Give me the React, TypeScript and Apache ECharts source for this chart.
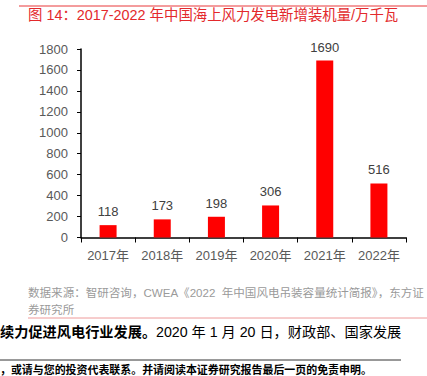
import React, { useEffect, useRef } from "react";
import * as echarts from "echarts";

const categories = ["2017年", "2018年", "2019年", "2020年", "2021年", "2022年"];
const capacityValues = [118, 173, 198, 306, 1690, 516];
const titleText = "图 14：2017-2022 年中国海上风力发电新增装机量/万千瓦";
const sourceLine1 = "数据来源：智研咨询，CWEA《2022  年中国风电吊装容量统计简报》，东方证";
const sourceLine2 = "券研究所";
const bodyBold = "续力促进风电行业发展。";
const bodyRegular = "2020 年 1 月 20 日，财政部、国家发展";
const footerText = "，或请与您的投资代表联系。并请阅读本证券研究报告最后一页的免责申明。";

const FONT = "'Liberation Sans', 'Noto Sans CJK SC', sans-serif";

export default function App() {
  const ref = useRef<HTMLDivElement>(null);
  useEffect(() => {
    if (!ref.current) return;
    const chart = echarts.init(ref.current, null, { renderer: "svg" });
    chart.setOption({
      animation: false,
      backgroundColor: "#ffffff",
      grid: { left: 81, right: 21, top: 49, bottom: 138.5 },
      xAxis: {
        type: "category",
        data: categories,
        axisLine: { lineStyle: { color: "#000", width: 1.5 } },
        axisTick: { show: true, alignWithLabel: false, length: 5, interval: 0, lineStyle: { color: "#000", width: 1 } },
        axisLabel: { color: "#595959", fontSize: 13, fontFamily: FONT, margin: 11, interval: 0 },
      },
      yAxis: {
        type: "value",
        min: 0,
        max: 1800,
        interval: 200,
        splitLine: { show: false },
        axisLine: { show: true, lineStyle: { color: "#000", width: 1.5 } },
        axisTick: { show: true, length: 4, lineStyle: { color: "#000", width: 1 } },
        axisLabel: {
          color: "#595959",
          fontSize: 13,
          fontFamily: FONT,
          margin: 13,
          formatter: (v: number) => String(v),
        },
      },
      series: [
        {
          type: "bar",
          data: capacityValues,
          barWidth: 17,
          itemStyle: { color: "#FF0000" },
          label: {
            show: true,
            position: "top",
            distance: 7,
            color: "#404040",
            fontSize: 13,
            fontFamily: FONT,
          },
        },
      ],
      graphic: [
        { type: "line", shape: { x1: 19, y1: 6, x2: 427, y2: 6 }, style: { stroke: "#E8383A", lineWidth: 1 } },
        {
          type: "text",
          x: 28,
          y: 15,
          style: { text: titleText, fill: "#E3292C", font: `14.4px ${FONT}`, textVerticalAlign: "middle" },
        },
        {
          type: "text",
          x: 28,
          y: 293,
          style: { text: sourceLine1, fill: "#9a9a9a", font: `11.55px ${FONT}`, textVerticalAlign: "middle" },
        },
        {
          type: "text",
          x: 28,
          y: 310,
          style: { text: sourceLine2, fill: "#9a9a9a", font: `11.55px ${FONT}`, textVerticalAlign: "middle" },
        },
        { type: "line", shape: { x1: 28, y1: 318, x2: 427, y2: 318 }, style: { stroke: "#EE9A9A", lineWidth: 1 } },
        {
          type: "text",
          x: 0,
          y: 332,
          style: {
            text: `{b|${bodyBold}}{r|${bodyRegular}}`,
            textVerticalAlign: "middle",
            rich: {
              b: { font: `bold 14.2px ${FONT}`, fill: "#000" },
              r: { font: `14.2px ${FONT}`, fill: "#000" },
            },
          },
        },
        { type: "line", shape: { x1: 0, y1: 360, x2: 401, y2: 360 }, style: { stroke: "#333", lineWidth: 1 } },
        {
          type: "text",
          x: 0,
          y: 370,
          style: { text: footerText, fill: "#000", font: `bold 10.95px ${FONT}`, textVerticalAlign: "middle" },
        },
      ],
    });
    return () => chart.dispose();
  }, []);
  return <div ref={ref} style={{ width: 427, height: 376, position: "absolute", left: 0, top: 0 }} />;
}
